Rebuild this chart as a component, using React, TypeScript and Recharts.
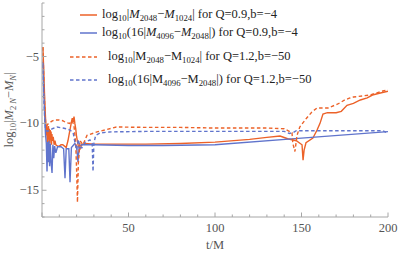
import React from "react";
import { LineChart, Line, XAxis, YAxis } from "recharts";

// Q=0.9, b=-4 : log10|M2048 - M1024|
const orangeSolidT = [0.5, 1, 1.5, 2, 2.25, 2.5, 2.75, 3, 3.25, 3.5, 3.75, 4, 4.25, 4.5, 4.75, 5, 5.25, 5.5, 5.75, 6, 6.5, 7, 7.5, 8, 9, 10, 11, 12, 13, 14, 15, 16, 17, 17.5, 18, 18.5, 19, 19.5, 20, 21, 22, 23, 25, 30, 40, 60, 80, 100, 120, 130, 137.6, 142, 147, 150.3, 150.9, 151.5, 152.6, 156.6, 159, 160.7, 162.4, 165, 170, 173, 176.3, 180, 184, 188, 191, 195, 200];
const orangeSolidV = [-4.3, -6.0, -8.0, -9.5, -10.2, -10.9, -10.1, -11.4, -10.3, -11.6, -10.2, -11.2, -10.4, -11.5, -10.5, -11.1, -10.6, -11.6, -10.8, -11.3, -11.0, -11.6, -11.3, -11.6, -11.7, -11.7, -11.6, -11.6, -11.7, -11.8, -11.3, -10.6, -9.9, -9.6, -9.9, -9.5, -10.0, -10.4, -11.0, -11.7, -11.9, -11.6, -11.5, -11.55, -11.55, -11.55, -11.5, -11.4, -11.2, -11.05, -10.95, -11.15, -11.3, -11.6, -12.75, -12.0, -11.45, -11.1, -10.5, -10.0, -9.3, -9.2, -9.2, -9.1, -8.65, -8.5, -8.25, -8.1, -7.88, -7.75, -7.6];

// Q=0.9, b=-4 : log10(16|M4096 - M2048|)
const blueSolidT = [0.5, 1, 1.5, 2, 2.5, 2.9, 3.3, 3.7, 4, 4.4, 4.8, 5.2, 5.8, 6.3, 6.8, 7.3, 8, 9, 11, 12.5, 13.3, 14, 15.5, 16.2, 17, 19, 20, 20.8, 21.5, 23, 30, 50, 70, 90, 100, 150, 200];
const blueSolidV = [-5.4, -7.5, -9.2, -10.8, -11.5, -13.6, -11.4, -12.9, -11.3, -13.2, -11.5, -12.8, -13.7, -11.6, -12.6, -11.7, -12.2, -11.75, -11.75, -11.9, -14.1, -11.9, -11.9, -14.4, -11.8, -11.5, -11.7, -12.9, -11.7, -11.6, -11.6, -11.65, -11.65, -11.62, -11.6, -11.1, -10.62];

// Q=1.2, b=-50 : log10|M2048 - M1024|
const orangeDashT = [0.5, 1, 1.5, 2, 2.5, 3, 4, 5.5, 7, 10, 12, 14, 16, 17.5, 18.5, 19.5, 20, 20.5, 21, 22, 23.7, 26, 31.8, 43, 60, 80, 100, 130, 140, 144.5, 145, 146.2, 147.4, 149, 153, 156, 159, 165.3, 171, 175, 178, 180, 189.6, 197, 200];
const orangeDashV = [-4.3, -6.5, -8.5, -9.8, -10.4, -10.1, -10.0, -9.85, -9.75, -9.75, -9.8, -9.95, -10.0, -9.8, -10.2, -11.5, -13.5, -15.9, -13.0, -11.3, -11.6, -10.9, -10.64, -10.27, -10.3, -10.3, -10.35, -10.35, -10.4, -10.7, -11.5, -12.1, -10.9, -10.27, -9.6, -9.15, -8.85, -8.85, -8.55, -8.25, -8.1, -8.03, -7.88, -7.58, -7.5];

// Q=1.2, b=-50 : log10(16|M4096 - M2048|)
const blueDashT = [0.5, 1, 1.5, 2, 3, 4.6, 6, 8.7, 12.1, 14, 16.2, 18, 19, 20, 21, 22, 23, 25, 27.7, 29, 29.5, 30, 31, 33.5, 39, 60, 100, 140, 143, 145, 147, 150, 190, 197, 200];
const blueDashV = [-5.6, -7.8, -9.5, -10.4, -10.6, -10.5, -10.4, -10.27, -10.35, -10.4, -10.5, -10.7, -11.4, -12.0, -11.2, -11.8, -11.84, -11.4, -11.24, -11.5, -13.6, -11.5, -10.9, -10.72, -10.64, -10.6, -10.6, -10.6, -10.75, -10.7, -10.55, -10.55, -10.55, -10.55, -10.75];

const xTicks = [0, 10, 20, 30, 40, 50, 60, 70, 80, 90, 100, 110, 120, 130, 140, 150, 160, 170, 180, 190, 200];
const xLabels = [50, 100, 150, 200];
const yTicks = [-17, -16, -15, -14, -13, -12, -11, -10, -9, -8, -7, -6, -5, -4, -3, -2, -1];
const yLabels = [-15, -10, -5];

const ORANGE = "#ec6229";
const BLUE = "#6074cc";
const FRAME = "#a6a6a6";
const SERIF = "Liberation Serif";

const toPoints = (t: number[], v: number[]) => t.map((x, i) => ({ t: x, v: v[i] }));

const series = [
    { name: "os", data: toPoints(orangeSolidT, orangeSolidV), color: ORANGE, dash: undefined },
    { name: "bs", data: toPoints(blueSolidT, blueSolidV), color: BLUE, dash: undefined },
    { name: "od", data: toPoints(orangeDashT, orangeDashV), color: ORANGE, dash: "3.5 2.5" },
    { name: "bd", data: toPoints(blueDashT, blueDashV), color: BLUE, dash: "3.5 2.5" },
];

const minus = (n: number) => String(n).replace("-", "\u2212");

const BottomTick = (props: any) => {
    const { x, y, payload } = props;
    const major = payload.value % 50 === 0;
    return (
        <g>
            <line x1={x} x2={x} y1={y} y2={y - (major ? 4.5 : 2.5)} stroke={FRAME} />
            {xLabels.includes(payload.value) && (
                <text x={x} y={y + 15} textAnchor="middle" fontSize={12.5} fill="#555" fontFamily={SERIF}>{payload.value}</text>
            )}
        </g>
    );
};

const TopTick = (props: any) => {
    const { x, y, payload } = props;
    const major = payload.value % 50 === 0;
    return <line x1={x} x2={x} y1={y} y2={y + (major ? 4.5 : 2.5)} stroke={FRAME} />;
};

const LeftTick = (props: any) => {
    const { x, y, payload } = props;
    const major = payload.value % 5 === 0;
    return (
        <g>
            <line x1={x} x2={x + (major ? 4.5 : 2.5)} y1={y} y2={y} stroke={FRAME} />
            {yLabels.includes(payload.value) && (
                <text x={x - 3} y={y + 4} textAnchor="end" fontSize={12.5} fill="#555" fontFamily={SERIF}>{minus(payload.value)}</text>
            )}
        </g>
    );
};

const RightTick = (props: any) => {
    const { x, y, payload } = props;
    const major = payload.value % 5 === 0;
    return <line x1={x} x2={x - (major ? 4.5 : 2.5)} y1={y} y2={y} stroke={FRAME} />;
};

const sub = { fontSize: "0.7em", verticalAlign: "-0.3em", lineHeight: 0 } as const;

const legendItems = [
    { y: 15, textX: 102, dash: false, color: ORANGE, italic: true, a: "2048", b: "1024", scaled: false, q: "Q=0.9,b=\u22124" },
    { y: 33, textX: 102, dash: false, color: BLUE, italic: true, a: "4096", b: "2048", scaled: true, q: "Q=0.9,b=\u22124" },
    { y: 57, textX: 108, dash: true, color: ORANGE, italic: false, a: "2048", b: "1024", scaled: false, q: "Q=1.2,b=\u221250" },
    { y: 80, textX: 108, dash: true, color: BLUE, italic: false, a: "4096", b: "2048", scaled: true, q: "Q=1.2,b=\u221250" },
];

const LegendBox = () => (
    <div style={{ position: "absolute", left: 0, top: 0, width: 399, height: 253, pointerEvents: "none", fontFamily: SERIF, fontSize: 12.5, color: "#222" }}>
        <svg style={{ position: "absolute", left: 0, top: 0 }} width={399} height={253}>
            {legendItems.map((it, i) => (
                <line key={i} x1={it.dash ? 70 : 80} x2={97} y1={it.y} y2={it.y} stroke={it.color} strokeWidth={1.5} strokeDasharray={it.dash ? "3.5 2.5" : undefined} />
            ))}
        </svg>
        {legendItems.map((it, i) => {
            const M = it.italic ? <i>M</i> : <span>M</span>;
            return (
                <div key={i} style={{ position: "absolute", left: it.textX, top: it.y - 9, whiteSpace: "nowrap", lineHeight: "16px" }}>
                    log<span style={sub}>10</span>{it.scaled ? "(16|" : "|"}{M}<span style={sub}>{it.a}</span>{"\u2212"}{M}<span style={sub}>{it.b}</span>{it.scaled ? "|)" : "|"} for {it.q}
                </div>
            );
        })}
    </div>
);

export default function App() {
    return (
        <div style={{ position: "absolute", left: 0, top: 0, width: 399, height: 253, background: "#fff", fontFamily: SERIF }}>
            <LineChart width={399} height={253} margin={{ top: 3, right: 11, left: 0, bottom: 0 }}>
                <XAxis xAxisId="b" dataKey="t" type="number" domain={[0, 200]} ticks={xTicks} orientation="bottom" height={36}
                    stroke={FRAME} tickSize={0} tickMargin={0} tick={<BottomTick />} interval={0} allowDataOverflow />
                <XAxis xAxisId="top" dataKey="t" type="number" domain={[0, 200]} ticks={xTicks} orientation="top" height={0}
                    stroke={FRAME} tickSize={0} tickMargin={0} tick={<TopTick />} interval={0} />
                <YAxis yAxisId="l" type="number" domain={[-17, -1]} ticks={yTicks} width={42} stroke={FRAME}
                    tickSize={0} tickMargin={0} tick={<LeftTick />} interval={0} allowDataOverflow />
                <YAxis yAxisId="r" orientation="right" type="number" domain={[-17, -1]} ticks={yTicks} width={0} stroke={FRAME}
                    tickSize={0} tickMargin={0} tick={<RightTick />} interval={0} />
                {series.map((s) => (
                    <Line key={s.name} xAxisId="b" yAxisId="l" data={s.data} dataKey="v" type="linear" stroke={s.color}
                        strokeWidth={1.4} strokeDasharray={s.dash} dot={false} isAnimationActive={false} />
                ))}
                <text x={215} y={249} textAnchor="middle" fontSize={12.5} fill="#555" fontFamily={SERIF}>t/M</text>
                <text transform="translate(13,110) rotate(-90)" textAnchor="middle" fontSize={12.5} fill="#555" fontFamily={SERIF}>
                    log<tspan fontSize={8.5} dy={3}>10</tspan><tspan dy={-3}>|</tspan><tspan fontStyle="italic">M</tspan>
                    <tspan fontSize={8.5} dy={3}>2</tspan><tspan fontSize={8.5} fontStyle="italic" dx={2}>N</tspan>
                    <tspan dy={-3}>{"\u2212"}</tspan><tspan fontStyle="italic">M</tspan><tspan fontSize={8.5} fontStyle="italic" dy={3}>N</tspan><tspan dy={-3}>|</tspan>
                </text>
            </LineChart>
            <LegendBox />
        </div>
    );
}
